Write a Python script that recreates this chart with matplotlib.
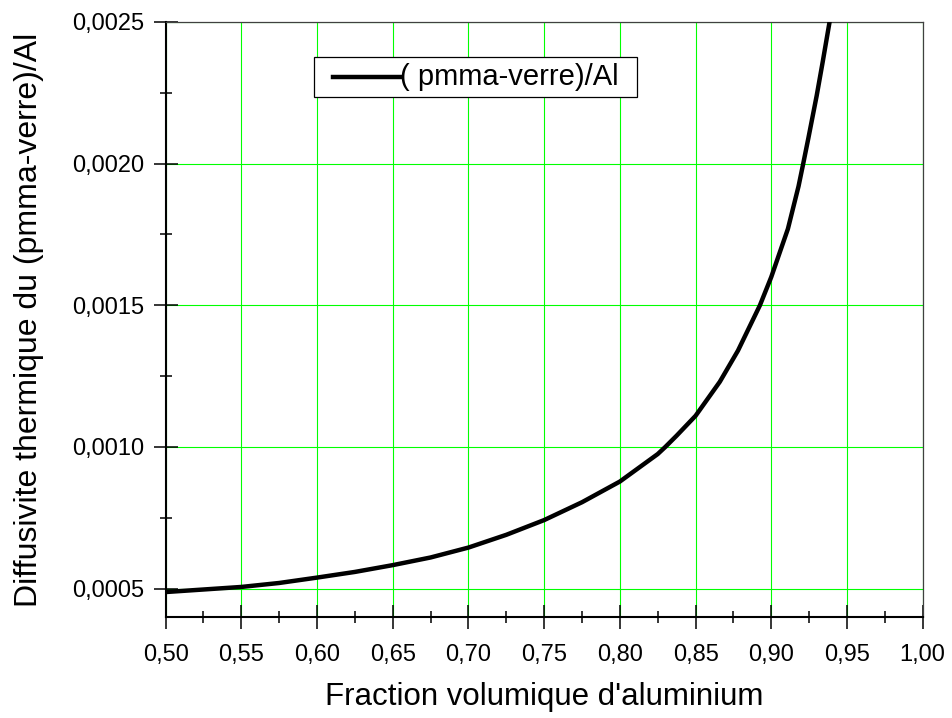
import matplotlib
matplotlib.use("Agg")
import matplotlib.pyplot as plt
from matplotlib.ticker import MultipleLocator, FuncFormatter
from matplotlib.patches import Rectangle
from matplotlib.lines import Line2D

plt.rcParams['font.family'] = ['Liberation Sans', 'DejaVu Sans']

# Data
fraction = [0.50, 0.525, 0.55, 0.575, 0.60, 0.625, 0.65, 0.675, 0.70, 0.725,
            0.75, 0.775, 0.80, 0.825, 0.83, 0.8375, 0.85, 0.866, 0.878,
            0.8925, 0.90, 0.911, 0.918, 0.9211, 0.9245, 0.930, 0.934,
            0.9385, 0.9415]
diffusivite = [0.000488, 0.000497, 0.000506, 0.000520, 0.000539, 0.000559,
               0.000583, 0.000610, 0.000645, 0.000690, 0.000742, 0.000805,
               0.000878, 0.000975, 0.001000, 0.001040, 0.001110, 0.001230,
               0.001340, 0.001500, 0.001600, 0.001770, 0.001920, 0.002000,
               0.002090, 0.002240, 0.002360, 0.002500, 0.002600]
series_label = "( pmma-verre)/Al"
x_label = "Fraction volumique d'aluminium"
y_label = "Diffusivite thermique du (pmma-verre)/Al"

fig = plt.figure(figsize=(9.52, 7.18), dpi=100)
ax = fig.add_axes([0.174, 0.1407, 0.7952, 0.8287])

line, = ax.plot(fraction, diffusivite, color='black', lw=3.2,
                label=series_label, solid_joinstyle='round', zorder=3)

ax.set_xlim(0.50, 1.00)
ax.set_ylim(0.0004, 0.0025)

ax.xaxis.set_major_locator(MultipleLocator(0.05))
ax.xaxis.set_minor_locator(MultipleLocator(0.025))
ax.yaxis.set_major_locator(MultipleLocator(0.0005))
ax.yaxis.set_minor_locator(MultipleLocator(0.00025))
ax.xaxis.set_major_formatter(FuncFormatter(lambda v, p: f"{v:.2f}".replace('.', ',')))
ax.yaxis.set_major_formatter(FuncFormatter(lambda v, p: f"{v:.4f}".replace('.', ',')))

ax.grid(True, which='major', color='#00ff00', lw=0.8, zorder=1)
ax.set_axisbelow(True)

ax.tick_params(which='major', direction='inout', length=17.5, width=1.1,
               labelsize=17, colors='black')
ax.tick_params(which='minor', direction='inout', length=9, width=1.1)
ax.tick_params(axis='x', which='major', pad=11)
ax.tick_params(axis='y', which='major', pad=7)
ax.tick_params(top=False, right=False, which='both')

for s in ['left', 'bottom']:
    ax.spines[s].set_linewidth(1.5)
    ax.spines[s].set_color('black')
for s in ['top', 'right']:
    ax.spines[s].set_linewidth(0.9)
    ax.spines[s].set_color('#404040')

ax.set_xlabel(x_label, fontsize=22.5, labelpad=11)
ax.set_ylabel(y_label, fontsize=23, labelpad=20)

# Legend box (Origin style): frame, line sample, then label right after it
lx0, ly0, lw_, lh_ = 0.1959, 0.8735, 0.4271, 0.0672
ax.add_patch(Rectangle((lx0, ly0), lw_, lh_, transform=ax.transAxes,
                       facecolor='white', edgecolor='black', lw=0.9,
                       zorder=5))
ly = ly0 + lh_ / 2
ax.add_line(Line2D([0.2210, 0.3095], [ly, ly], transform=ax.transAxes,
                   color=line.get_color(), lw=line.get_linewidth(), zorder=6))
ax.text(0.3095, ly, line.get_label(), transform=ax.transAxes,
        fontsize=21, va='center', ha='left', zorder=6)

fig.savefig("out.png", dpi=100)
